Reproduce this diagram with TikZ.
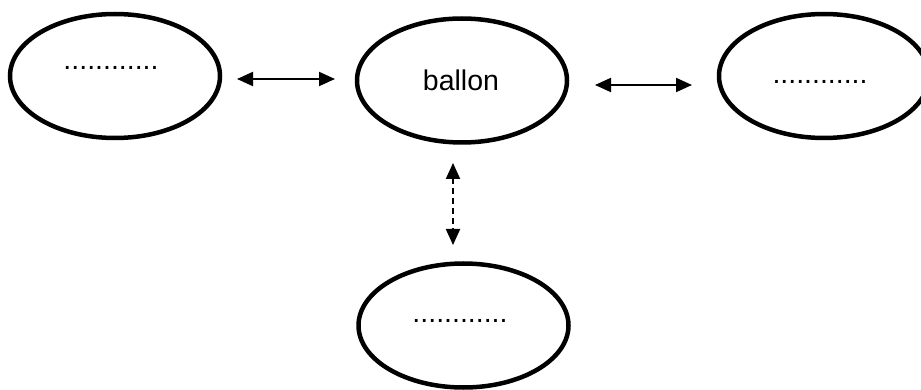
\documentclass[tikz,border=0pt]{standalone}
\usepackage{fontspec}
\setmainfont{Liberation Sans}
\usetikzlibrary{shapes.geometric,arrows.meta}
\begin{document}
\begin{tikzpicture}[x=1pt,y=-1pt,
  bubble/.style={draw,line width=4.5pt,ellipse,inner sep=0pt,minimum width=210pt,minimum height=124pt},
  lbl/.style={inner sep=0pt,font=\fontsize{28.5}{32}\selectfont,anchor=base},
  link/.style={line width=2pt,{Triangle[length=16pt,width=14pt]}-{Triangle[length=16pt,width=14pt]}}]
\useasboundingbox (0,0) rectangle (921,390);
\clip (0,0) rectangle (921,390);
\node[bubble] (L) at (115,76) {};
\node[bubble] (M) at (462,80.5) {};
\node[bubble] (R) at (824,76) {};
\node[bubble] (B) at (463.5,325.5) {};
\node[lbl] (tL) at (111,70) {............};
\node[lbl] (tM) at (461,91) {ballon};
\node[lbl] (tR) at (820,84) {............};
\node[lbl] (tB) at (460,322) {............};
\coordinate (a1) at (237,79);
\coordinate (a2) at (335,79);
\coordinate (b1) at (595,85);
\coordinate (b2) at (692,85);
\coordinate (c1) at (453,163);
\coordinate (c2) at (453,245);
\draw[link] (a1) -- (a2);
\draw[link] (b1) -- (b2);
\draw[link,dash pattern=on 6pt off 4pt] (c1) -- (c2);
\end{tikzpicture}
\end{document}
